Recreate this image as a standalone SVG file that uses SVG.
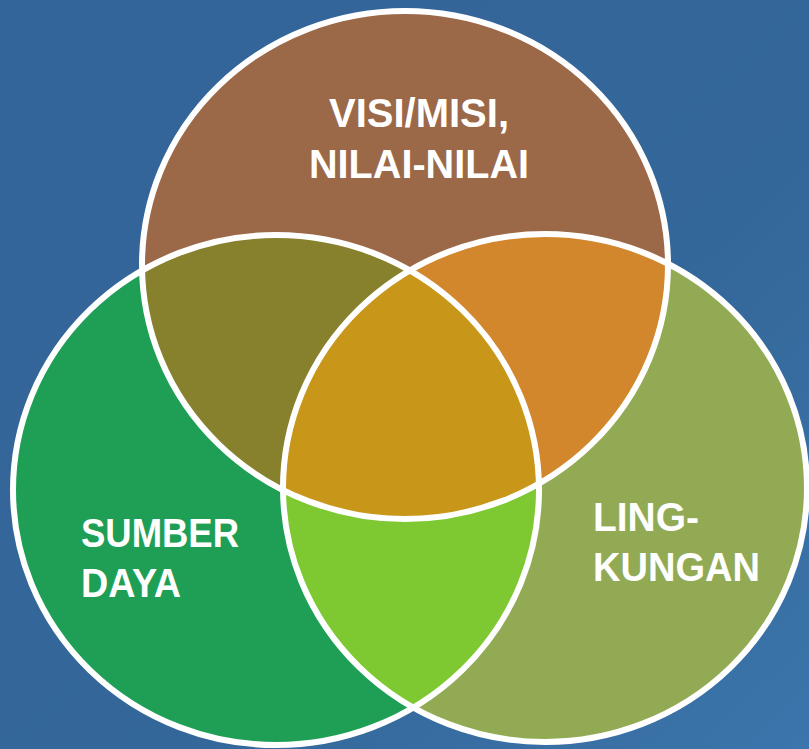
<svg xmlns="http://www.w3.org/2000/svg" width="809" height="749" viewBox="0 0 809 749">
<style>
.outline{fill:none;stroke:#ffffff;stroke-width:6}
.lbl{font-family:"Liberation Sans",Arial,sans-serif;font-size:41px;font-weight:bold;fill:#ffffff}
</style>
<defs>
<linearGradient id="bg" x1="0" y1="0" x2="1" y2="1">
<stop offset="0" stop-color="#33649A"/>
<stop offset="0.6" stop-color="#346799"/>
<stop offset="1" stop-color="#3B75AB"/>
</linearGradient>
<ellipse id="eT" cx="405" cy="265" rx="263" ry="254"/>
<ellipse id="eL" cx="276" cy="490" rx="263" ry="255"/>
<ellipse id="eR" cx="545" cy="488" rx="262" ry="254"/>
<clipPath id="cT"><use href="#eT"/></clipPath>
<clipPath id="cL"><use href="#eL"/></clipPath>
</defs>
<rect x="0" y="0" width="809" height="749" fill="url(#bg)"/>
<g id="node-visi-misi">
<use href="#eT" fill="#9B6848"/>
<text class="lbl" x="419" y="127" text-anchor="middle" textLength="180" lengthAdjust="spacingAndGlyphs">VISI/MISI,</text>
<text class="lbl" x="419" y="178" text-anchor="middle" textLength="220" lengthAdjust="spacingAndGlyphs">NILAI-NILAI</text>
</g>
<g id="node-sumber-daya">
<use href="#eL" fill="#1E9F55"/>
<text class="lbl" x="81" y="547" textLength="158" lengthAdjust="spacingAndGlyphs">SUMBER</text>
<text class="lbl" x="81" y="597" textLength="100" lengthAdjust="spacingAndGlyphs">DAYA</text>
</g>
<g id="node-lingkungan">
<use href="#eR" fill="#92AA54"/>
<text class="lbl" x="593" y="531" textLength="106" lengthAdjust="spacingAndGlyphs">LING-</text>
<text class="lbl" x="593" y="581" textLength="167" lengthAdjust="spacingAndGlyphs">KUNGAN</text>
</g>
<g id="overlaps">
<use href="#eL" fill="#87802D" clip-path="url(#cT)"/>
<use href="#eR" fill="#D2872D" clip-path="url(#cT)"/>
<use href="#eR" fill="#7EC832" clip-path="url(#cL)"/>
<g clip-path="url(#cT)"><use href="#eR" fill="#C89619" clip-path="url(#cL)"/></g>
</g>
<g id="outlines">
<use href="#eT" class="outline"/>
<use href="#eL" class="outline"/>
<use href="#eR" class="outline"/>
</g>
</svg>
